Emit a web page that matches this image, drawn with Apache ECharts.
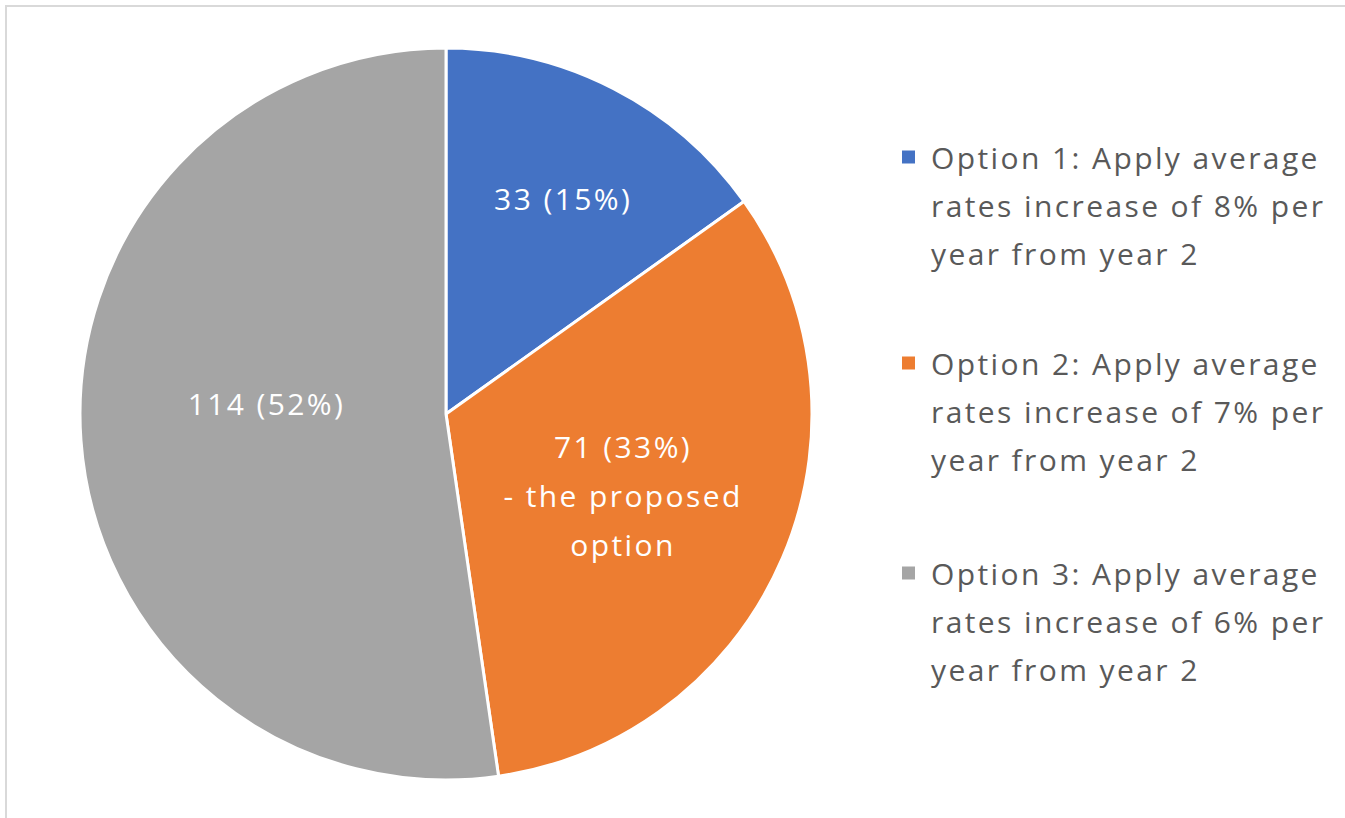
<!DOCTYPE html>
<html>
<head>
<meta charset="utf-8">
<script src="https://cdn.jsdelivr.net/npm/echarts@6/dist/echarts.min.js"></script>
<style>
html,body{margin:0;padding:0;background:#fff;}
#chart{width:1345px;height:818px;}
#chart svg text{letter-spacing:2.4px;}
</style>
</head>
<body>
<div id="chart"></div>
<script>
// ---- data ----
const categories = [
  'Option 1: Apply average rates increase of 8% per year from year 2',
  'Option 2: Apply average rates increase of 7% per year from year 2',
  'Option 3: Apply average rates increase of 6% per year from year 2'
];
const legendLines = [
  ['Option 1: Apply average', 'rates increase of 8% per', 'year from year 2'],
  ['Option 2: Apply average', 'rates increase of 7% per', 'year from year 2'],
  ['Option 3: Apply average', 'rates increase of 6% per', 'year from year 2']
];
const values = [33, 71, 114];
const labelNotes = ['', '\n- the proposed\noption', ''];
const colors = ['#4472C4', '#ED7D31', '#A5A5A5'];

// ---- presentation ----
const FONT = 'Open Sans';
const LINE_H = 48;
const labelOffsets = [[32, -50], [6, 8], [6, -24]];
const legendTops = [37, 243, 453];

const total = values.reduce((a, b) => a + b, 0);

const chart = echarts.init(document.getElementById('chart'), null, { renderer: 'svg' });
const option = {
  backgroundColor: '#ffffff',
  animation: false,
  color: colors,
  graphic: [{
    type: 'rect',
    shape: { x: 6, y: 6, width: 1400, height: 900 },
    style: { fill: 'none', stroke: '#d9d9d9', lineWidth: 2 },
    silent: true, z: -1
  }],
  legend: categories.map((name, i) => ({
    data: [name],
    orient: 'vertical',
    left: 900,
    top: legendTops[i],
    padding: 0,
    itemWidth: 15,
    itemHeight: 15,
    icon: 'rect',
    selectedMode: false,
    formatter: () => ' \n \n' + legendLines[i].join('\n'),
    textStyle: {
      fontFamily: FONT,
      fontSize: 30,
      color: '#595959',
      lineHeight: LINE_H,
      padding: [0, 0, 0, 10]
    }
  })),
  series: [{
    type: 'pie',
    center: [446, 414],
    radius: [0, 366],
    startAngle: 90,
    clockwise: true,
    avoidLabelOverlap: false,
    itemStyle: { borderColor: '#ffffff', borderWidth: 3 },
    label: {
      show: true,
      position: 'inside',
      fontFamily: FONT,
      fontSize: 30,
      color: '#ffffff',
      lineHeight: LINE_H + 1,
      align: 'center'
    },
    labelLine: { show: false },
    emphasis: { disabled: true },
    data: categories.map((name, i) => ({
      name: name,
      value: values[i],
      label: {
        offset: labelOffsets[i],
        formatter: values[i] + ' (' + Math.round(values[i] / total * 100) + '%)' + labelNotes[i]
      }
    }))
  }]
};
chart.setOption(option);
</script>
</body>
</html>
